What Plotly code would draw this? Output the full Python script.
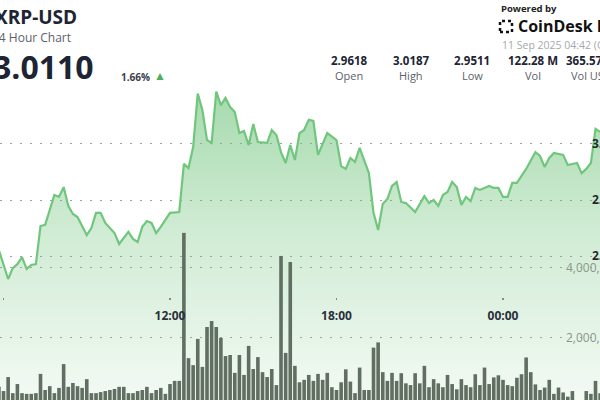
import plotly.graph_objects as go
import pandas as pd

# ---------------- data ----------------
price_times = [
    "2025-09-10 05:50", "2025-09-10 06:10", "2025-09-10 06:20", "2025-09-10 06:30", "2025-09-10 06:40",
    "2025-09-10 06:50", "2025-09-10 07:00", "2025-09-10 07:10", "2025-09-10 07:20", "2025-09-10 07:30",
    "2025-09-10 07:50", "2025-09-10 08:00", "2025-09-10 08:10", "2025-09-10 08:20", "2025-09-10 08:30",
    "2025-09-10 08:40", "2025-09-10 09:00", "2025-09-10 09:10", "2025-09-10 09:20", "2025-09-10 09:30",
    "2025-09-10 09:40", "2025-09-10 10:00", "2025-09-10 10:10", "2025-09-10 10:30", "2025-09-10 10:40",
    "2025-09-10 10:50", "2025-09-10 11:00", "2025-09-10 11:10", "2025-09-10 11:20", "2025-09-10 11:30",
    "2025-09-10 11:40", "2025-09-10 12:00", "2025-09-10 12:20", "2025-09-10 12:30", "2025-09-10 12:40",
    "2025-09-10 12:50", "2025-09-10 13:00", "2025-09-10 13:10", "2025-09-10 13:20", "2025-09-10 13:30",
    "2025-09-10 13:40", "2025-09-10 13:50", "2025-09-10 14:00", "2025-09-10 14:10", "2025-09-10 14:20",
    "2025-09-10 14:30", "2025-09-10 14:40", "2025-09-10 14:50", "2025-09-10 15:00", "2025-09-10 15:10",
    "2025-09-10 15:30", "2025-09-10 15:40", "2025-09-10 15:50", "2025-09-10 16:00", "2025-09-10 16:10",
    "2025-09-10 16:20", "2025-09-10 16:30", "2025-09-10 16:40", "2025-09-10 16:50", "2025-09-10 17:00",
    "2025-09-10 17:10", "2025-09-10 17:20", "2025-09-10 17:40", "2025-09-10 18:00", "2025-09-10 18:10",
    "2025-09-10 18:20", "2025-09-10 18:30", "2025-09-10 18:40", "2025-09-10 18:50", "2025-09-10 19:00",
    "2025-09-10 19:10", "2025-09-10 19:20", "2025-09-10 19:30", "2025-09-10 19:40", "2025-09-10 19:50",
    "2025-09-10 20:00", "2025-09-10 20:10", "2025-09-10 20:20", "2025-09-10 20:30", "2025-09-10 20:50",
    "2025-09-10 21:10", "2025-09-10 21:20", "2025-09-10 21:30", "2025-09-10 21:40", "2025-09-10 21:50",
    "2025-09-10 22:00", "2025-09-10 22:10", "2025-09-10 22:20", "2025-09-10 22:30", "2025-09-10 22:40",
    "2025-09-10 22:50", "2025-09-10 23:00", "2025-09-10 23:10", "2025-09-10 23:30", "2025-09-10 23:40",
    "2025-09-10 23:50", "2025-09-11 00:00", "2025-09-11 00:10", "2025-09-11 00:20", "2025-09-11 00:30",
    "2025-09-11 00:50", "2025-09-11 01:10", "2025-09-11 01:20", "2025-09-11 01:30", "2025-09-11 01:40",
    "2025-09-11 01:50", "2025-09-11 02:10", "2025-09-11 02:20", "2025-09-11 02:40", "2025-09-11 02:50",
    "2025-09-11 03:00", "2025-09-11 03:10", "2025-09-11 03:20", "2025-09-11 03:30",
]
price_values = [
    2.9621, 2.9518, 2.9557, 2.9571, 2.9596, 2.9554, 2.9568, 2.9571, 2.9707, 2.9711,
    2.9818, 2.9811, 2.9846, 2.9779, 2.9750, 2.9739, 2.9675, 2.9700, 2.9754, 2.9754,
    2.9718, 2.9682, 2.9643, 2.9686, 2.9661, 2.9650, 2.9704, 2.9725, 2.9718, 2.9682,
    2.9704, 2.9754, 2.9757, 2.9929, 2.9914, 2.9989, 3.0180, 3.0121, 3.0014, 3.0004,
    3.0187, 3.0139, 3.0164, 3.0132, 3.0114, 3.0039, 3.0046, 2.9996, 3.0071, 3.0007,
    3.0004, 3.0050, 3.0032, 2.9971, 2.9932, 2.9996, 2.9943, 3.0039, 3.0050, 3.0086,
    3.0082, 2.9961, 3.0039, 3.0014, 2.9921, 2.9911, 2.9950, 2.9936, 2.9986, 2.9943,
    2.9896, 2.9754, 2.9693, 2.9786, 2.9804, 2.9850, 2.9864, 2.9793, 2.9789, 2.9757,
    2.9814, 2.9789, 2.9800, 2.9779, 2.9818, 2.9829, 2.9864, 2.9846, 2.9782, 2.9811,
    2.9796, 2.9843, 2.9836, 2.9850, 2.9843, 2.9843, 2.9811, 2.9811, 2.9861, 2.9861,
    2.9911, 2.9971, 2.9957, 2.9918, 2.9950, 2.9968, 2.9961, 2.9925, 2.9932, 2.9896,
    2.9911, 2.9932, 3.0054, 3.0043,
]

volume_start = "2025-09-10 05:50"
volume_millions = [
    0.59, 0.47, 0.87, 0.41, 0.67, 0.41, 0.39, 0.39, 0.41, 0.96, 0.50, 0.61, 0.41, 0.56, 1.24,
    0.59, 0.70, 0.61, 0.56, 0.81, 0.41, 0.41, 0.44, 0.47, 0.50, 0.53, 0.59, 0.59, 0.41, 0.41,
    0.47, 0.50, 0.59, 0.41, 0.50, 0.56, 0.39,
    0.67, 0.76, 0.76, 4.99, 1.41, 1.21, 1.96, 1.16, 2.30, 2.47, 2.30, 1.99, 1.47, 1.50, 0.99,
    1.50, 0.93, 1.76, 1.10, 1.44, 1.01, 0.87, 1.10, 0.64, 4.33, 1.56, 4.16, 1.19,
    0.72, 0.79, 0.93, 0.76, 0.96, 0.79, 0.99, 0.58, 0.50, 0.72, 1.09, 0.74, 0.41, 1.14, 0.50,
    0.50, 1.71, 1.86, 1.01, 0.76, 0.99, 0.76, 0.98, 0.69, 0.64, 0.98, 0.69, 1.19, 0.58, 0.81,
    0.69, 0.58, 0.93, 0.67, 0.52, 0.81, 0.64, 0.58, 0.95, 0.64, 1.14, 0.67, 0.86, 0.92, 0.79,
    0.64, 0.61, 0.85, 0.95, 1.43, 1.01, 0.66, 0.50, 0.57, 0.79, 0.39, 0.57, 0.43, 0.31, 0.47,
    0.15, 0.15, 0.47, 0.39, 0.76, 0.41,
]
volume_times = pd.date_range(volume_start, periods=len(volume_millions), freq="10min")
volume_values = [v * 1e6 for v in volume_millions]

price_tickvals = [2.96, 2.98, 3.00]
price_ticktext = ["2.96", "2.98", "3.00"]
volume_tickvals = [2e6, 4e6]
volume_ticktext = ["2,000,000", "4,000,000"]

stat_values = ["2.9618", "3.0187", "2.9511", "122.28 M", "365.57 M"]
stat_labels = ["Open", "High", "Low", "Vol", "Vol USD"]

# ---------------- figure ----------------
FONT = "Open Sans"
DARK = "#1d2433"
W, H = 600, 400

fig = go.Figure()
fig.add_trace(go.Scatter(
    x=price_times, y=price_values, mode="lines",
    line=dict(color="rgb(112,198,124)", width=2.2),
    fill="tozeroy",
    fillgradient=dict(type="vertical",
                      colorscale=[[0, "rgba(110,195,122,0.07)"], [0.55, "rgba(110,195,122,0.32)"],
                                  [1, "rgba(110,195,122,0.62)"]],
                      start=2.905, stop=3.02),
    xaxis="x", yaxis="y", hoverinfo="skip", showlegend=False,
))
fig.add_trace(go.Bar(
    x=volume_times, y=volume_values,
    marker=dict(color="#616e62", line=dict(width=0)),
    xaxis="x", yaxis="y2", hoverinfo="skip", showlegend=False,
))

def px(x):
    return x / W

def py(y):
    return 1 - y / H

annotations = []
def add_text(text, x, y, size, color=DARK, weight="normal", xanchor="left", family=FONT):
    annotations.append(dict(text=text, x=px(x), y=py(y), xref="paper", yref="paper",
                            xanchor=xanchor, yanchor="middle", showarrow=False,
                            font=dict(family=family, size=size, color=color, weight=weight)))

add_text("XRP-USD", -7, 17, 19, weight="bold")
add_text("24 Hour Chart", -10, 38, 12, color="#5b616b")
add_text("3.0110", -9, 66, 32, weight="bold")
add_text("1.66%", 119, 77, 10, color="#3a404a", weight="bold")
add_text("▲", 152, 76, 12, color="#4caf5a")

add_text("Powered by", 499, 8, 9.5, color="#222", weight="bold")
add_text("CoinDesk Data", 516, 26, 16, color="#111", weight="bold")
add_text("11 Sep 2025 04:42 (GMT)", 500, 45, 10.5, color="#a3a8ae")

stat_centers = [349, 411, 472, 533, 591]
for v, lab, cx in zip(stat_values, stat_labels, stat_centers):
    add_text(v, cx, 61, 11.5, weight="bold", xanchor="center")
    add_text(lab, cx, 76, 11, color="#5b616b", xanchor="center")

shapes = [
    dict(type="rect", xref="paper", yref="paper", x0=px(500), x1=px(512), y0=py(32), y1=py(21),
         line=dict(color="#111", width=2.5, dash="dot"), fillcolor="rgba(0,0,0,0)"),
]

fig.update_layout(
    width=W, height=H,
    margin=dict(l=0, r=0, t=0, b=0, pad=0),
    paper_bgcolor="white", plot_bgcolor="white",
    bargap=0.22,
    annotations=annotations, shapes=shapes,
    font=dict(family=FONT),
    xaxis=dict(
        type="date", domain=[0, 1],
        range=["2025-09-10 05:52:24", "2025-09-11 03:29:42"],
        anchor="free", position=py(297),
        showgrid=False, zeroline=False, showline=False,
        ticks="outside", ticklen=2, tickwidth=1.5, tickcolor="#888",
        dtick=6 * 3600 * 1000, tick0="2025-09-10 00:00", tickformat="%H:%M",
        tickfont=dict(family=FONT, size=12, color="#2a303c", weight="bold"),
        ticklabelstandoff=6,
        automargin=False,
    ),
    yaxis=dict(
        domain=[0, 1], range=[2.9086, 3.0514],
        tickvals=price_tickvals, ticktext=price_ticktext,
        side="right", anchor="free", position=px(591),
        showgrid=True, gridcolor="#a0a0a0", gridwidth=1, griddash="2px,8px",
        zeroline=False, showline=False, ticks="",
        tickfont=dict(family=FONT, size=12, color="#222831", weight="bold"),
        automargin=False,
    ),
    yaxis2=dict(
        overlaying="y", range=[0.214e6, 11.643e6],
        tickvals=volume_tickvals, ticktext=volume_ticktext,
        side="right", anchor="free", position=px(565),
        showgrid=True, gridcolor="#a0a0a0", gridwidth=1, griddash="2px,8px",
        zeroline=False, showline=False, ticks="",
        tickfont=dict(family=FONT, size=12, color="#8d978d"),
        automargin=False,
    ),
)

fig.write_html(
    "out.html",
    config={"displayModeBar": False, "staticPlot": True},
    post_script="document.body.style.margin='0';document.body.style.overflow='hidden';",
)
